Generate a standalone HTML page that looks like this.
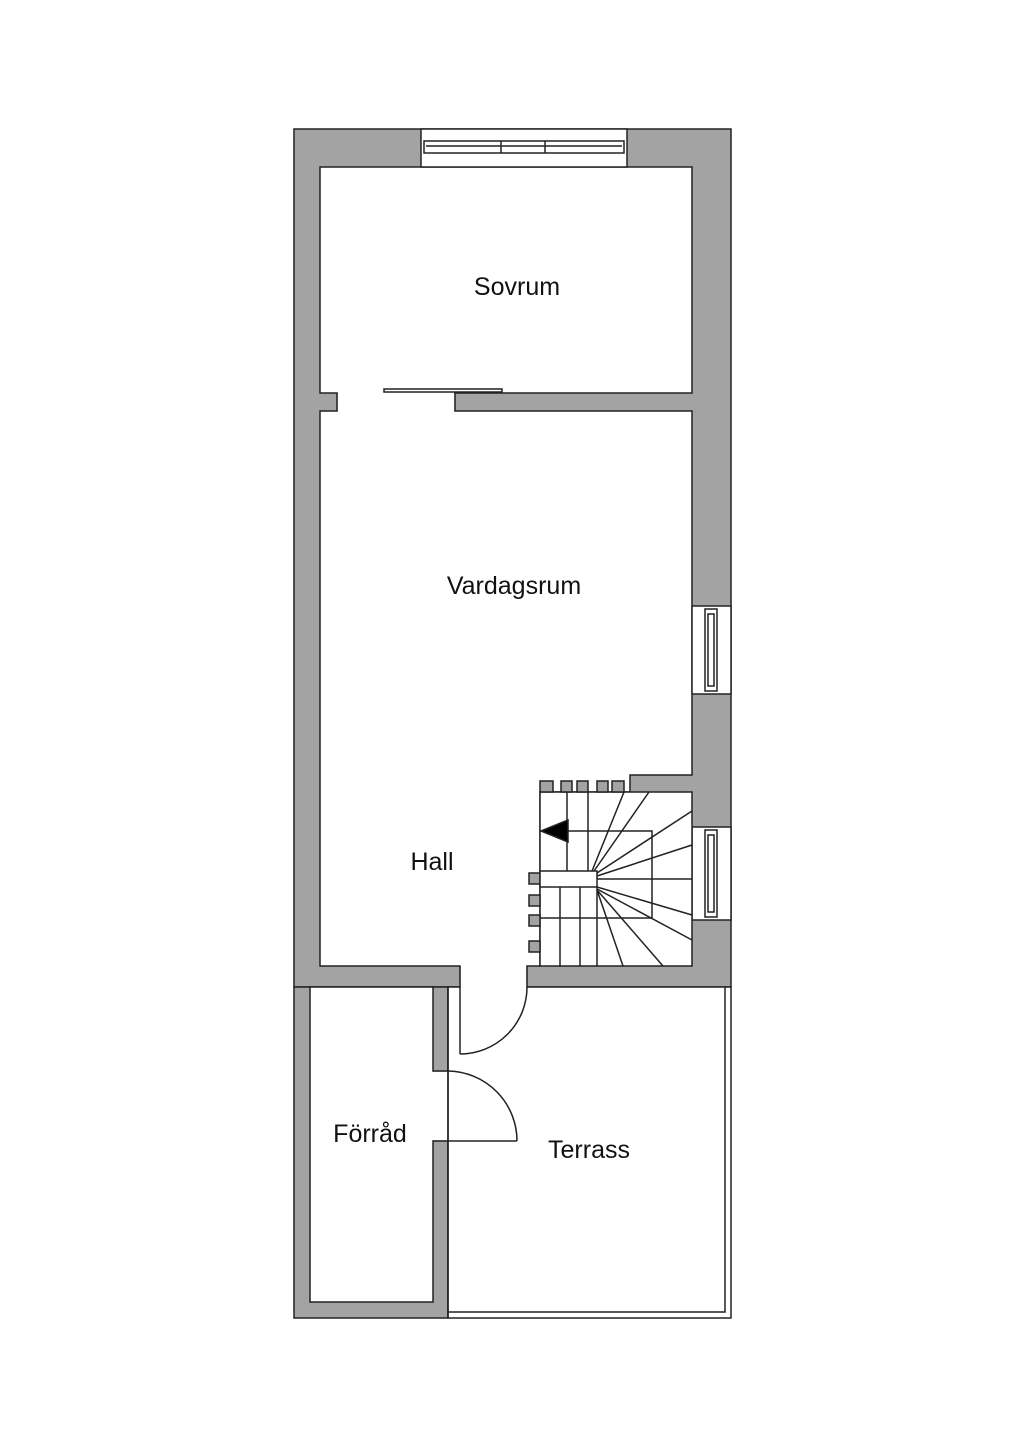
<!DOCTYPE html>
<html><head><meta charset="utf-8"><style>
html,body{margin:0;padding:0;background:#fff;}
svg{display:block;}
text{font-family:"Liberation Sans",sans-serif;font-size:25px;fill:#111;text-anchor:middle;}
</style></head><body>
<svg width="1024" height="1449" viewBox="0 0 1024 1449" xmlns="http://www.w3.org/2000/svg">
<g stroke="#222" stroke-width="1.5">
<rect x="294" y="129" width="437" height="858" fill="#a3a3a3"/>
<rect x="294" y="987" width="154" height="331" fill="#a3a3a3"/>
<rect x="448" y="987" width="283" height="331" fill="#fff"/>
<polyline points="725,987 725,1312 448,1312" fill="none"/>
<rect x="320" y="167" width="372" height="226" fill="#fff"/>
<rect x="421" y="129" width="206" height="38" fill="#fff"/>
<rect x="424" y="141" width="200" height="12" fill="#fff"/>
<line x1="426" y1="146" x2="622" y2="146"/>
<line x1="501" y1="141" x2="501" y2="153"/>
<line x1="545" y1="141" x2="545" y2="153"/>
<path d="M320 411 H692 V775 H630 V792 H540 V966 H320 Z" fill="#fff"/>
<rect x="337.8" y="392" width="116.4" height="20" fill="#fff" stroke="none"/>
<line x1="337" y1="393" x2="337" y2="411"/>
<line x1="455" y1="393" x2="455" y2="411"/>
<rect x="384" y="389" width="118" height="3" fill="#fff"/>
<rect x="460.7" y="965" width="65.6" height="23" fill="#fff" stroke="none"/>
<line x1="460" y1="966" x2="460" y2="1054"/>
<line x1="527" y1="966" x2="527" y2="987"/>
<path d="M527 987 A67 67 0 0 1 460 1054" fill="none"/>
<rect x="310" y="987" width="123" height="315" fill="#fff"/>
<rect x="432" y="1071.8" width="15.2" height="68.4" fill="#fff" stroke="none"/>
<line x1="433" y1="1071" x2="448" y2="1071"/>
<line x1="433" y1="1141" x2="517" y2="1141"/>
<line x1="448" y1="987" x2="448" y2="1318"/>
<path d="M448 1071 A70 70 0 0 1 517 1141" fill="none"/>
<rect x="692" y="606" width="39" height="88" fill="#fff"/>
<rect x="705" y="609" width="12" height="82" fill="#fff"/>
<rect x="708" y="614" width="6" height="72" fill="#fff"/>
<rect x="692" y="827" width="39" height="93" fill="#fff"/>
<rect x="705" y="830" width="12" height="87" fill="#fff"/>
<rect x="708" y="835" width="6" height="77" fill="#fff"/>
<rect x="540" y="792" width="152" height="174" fill="#fff"/>
<g fill="#a3a3a3">
<rect x="540" y="781" width="13" height="11"/><rect x="561" y="781" width="11" height="11"/>
<rect x="577" y="781" width="11" height="11"/><rect x="597" y="781" width="11" height="11"/>
<rect x="612" y="781" width="12" height="11"/>
<rect x="529" y="873" width="11" height="11"/><rect x="529" y="895" width="11" height="11"/>
<rect x="529" y="915" width="11" height="11"/><rect x="529" y="941" width="11" height="11"/>
</g>
<line x1="567" y1="792" x2="567" y2="871"/>
<line x1="588" y1="792" x2="588" y2="871"/>
<polyline points="540,831 652,831 652,918 540,918" fill="none"/>
<rect x="540" y="871" width="57" height="16" fill="#fff"/>
<line x1="560" y1="887" x2="560" y2="966"/>
<line x1="580" y1="887" x2="580" y2="966"/>
<line x1="597" y1="887" x2="597" y2="966"/>
<g>
<line x1="592" y1="871" x2="624" y2="792"/>
<line x1="594" y1="871" x2="649" y2="792"/>
<line x1="597" y1="873" x2="692" y2="811"/>
<line x1="597" y1="876" x2="692" y2="845"/>
<line x1="597" y1="879" x2="692" y2="879"/>
<line x1="597" y1="887" x2="692" y2="915"/>
<line x1="597" y1="889" x2="692" y2="940"/>
<line x1="597" y1="890" x2="663" y2="966"/>
<line x1="597" y1="890" x2="623" y2="966"/>
</g>
<polygon points="541,831 568,820 568,842" fill="#000"/>
</g>
<text x="517" y="295">Sovrum</text>
<text x="514" y="594">Vardagsrum</text>
<text x="432" y="870">Hall</text>
<text x="370" y="1142">Förråd</text>
<text x="589" y="1158">Terrass</text>
</svg>
</body></html>
